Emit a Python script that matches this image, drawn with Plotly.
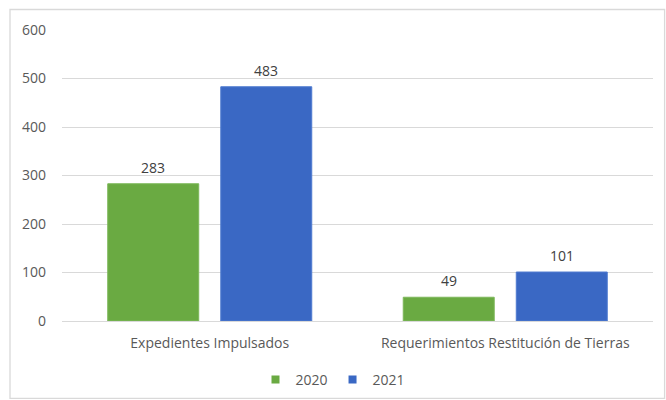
import plotly.graph_objects as go

categories = ["Expedientes Impulsados", "Requerimientos Restitución de Tierras"]
values_2020 = [283, 49]
values_2021 = [483, 101]
series_names = ["2020", "2021"]
y_ticks = [0, 100, 200, 300, 400, 500, 600]

colors = ["#6aaa42", "#3a68c4"]
line_colors = ["#7db85a", "#4f7bd0"]

BARGAP = 0.235
BARGROUPGAP = 0.195
FONT = "Open Sans"

fig = go.Figure()
for name, vals, col, lc in zip(series_names, [values_2020, values_2021], colors, line_colors):
    fig.add_trace(go.Bar(
        x=categories, y=vals, name=name, showlegend=False,
        marker=dict(color=col, line=dict(color=lc, width=1)),
        hoverinfo="x+y+name",
    ))
# legend entries as small squares
for name, col in zip(series_names, colors):
    fig.add_trace(go.Scatter(
        x=[None], y=[None], mode="markers", name=name,
        marker=dict(symbol="square", size=8, color=col),
    ))

# value labels placed at the bar tops through the axes
slot = (1 - BARGAP) / 2
for i, vals in enumerate([values_2020, values_2021]):
    off = (i - 0.5) * slot
    for j, v in enumerate(vals):
        fig.add_annotation(
            x=j + off, y=v, xref="x", yref="y", text=str(v),
            showarrow=False, yanchor="bottom", yshift=5,
            font=dict(family=FONT, size=14, color="#404040"),
        )

# chart border
fig.add_shape(type="rect", xref="paper", yref="paper",
              x0=-0.0880, x1=1.0196, y0=-0.266, y1=1.0704,
              line=dict(color="#d9d9d9", width=1.3), fillcolor="rgba(0,0,0,0)", layer="below")

fig.update_layout(
    width=666, height=400,
    margin=dict(l=62, r=13, t=30, b=79, autoexpand=False),
    paper_bgcolor="white", plot_bgcolor="white",
    barmode="group", bargap=BARGAP, bargroupgap=BARGROUPGAP,
    font=dict(family=FONT, size=14, color="#595959"),
    showlegend=True,
    legend=dict(orientation="h", x=0.5, xanchor="center", xref="container",
                y=0.05, yanchor="middle", yref="container",
                font=dict(family=FONT, size=14, color="#595959"),
                itemwidth=30, tracegroupgap=0, itemclick=False, bgcolor="rgba(0,0,0,0)"),
)
fig.update_xaxes(showgrid=False, showline=False, zeroline=False, automargin=False,
                 ticks="", ticklabelstandoff=12,
                 tickfont=dict(family=FONT, size=14, color="#595959"))
fig.update_yaxes(range=[0, 600], tickvals=y_ticks, showgrid=True, gridcolor="#d9d9d9",
                 gridwidth=1, zeroline=True, zerolinecolor="#d9d9d9", zerolinewidth=1,
                 showline=False, ticks="", ticklabelstandoff=15, automargin=False,
                 tickfont=dict(family=FONT, size=14, color="#595959"))

fig.write_html("out.html")
